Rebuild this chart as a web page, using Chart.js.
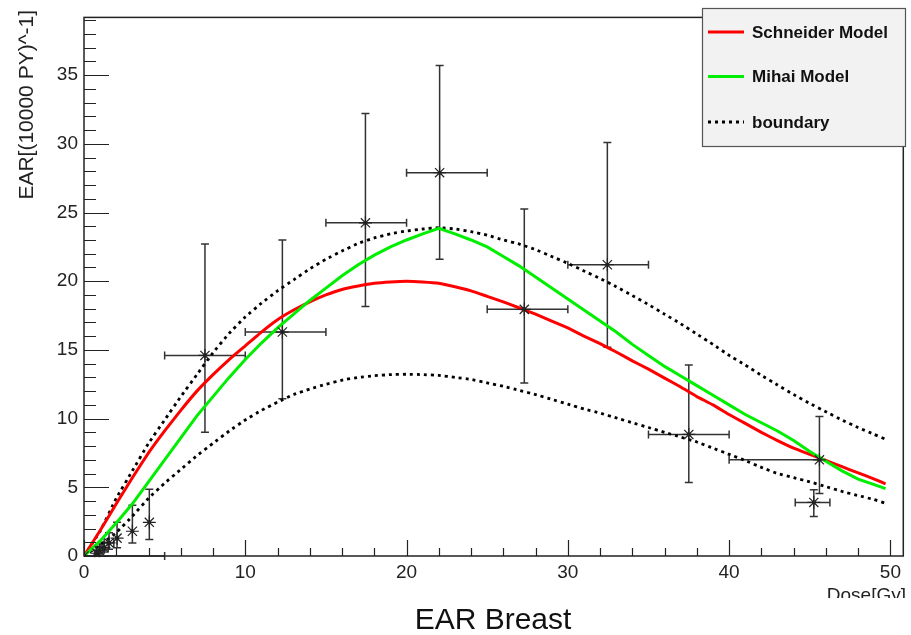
<!DOCTYPE html>
<html>
<head>
<meta charset="utf-8">
<title>EAR Breast</title>
<script src="https://cdn.jsdelivr.net/npm/chart.js@4/dist/chart.umd.min.js"></script>
<style>
  html, body { margin: 0; padding: 0; background: #ffffff; }
  #wrap { width: 911px; height: 635px; position: relative; }
</style>
</head>
<body>
<div id="wrap"><canvas id="ear"></canvas></div>
<script>
// Dose grid (Gy) on which the model curves are evaluated
const doseGrid = [0, 1, 2, 3, 4, 5, 6, 7, 8, 9, 10, 11, 12, 13, 14, 15, 16, 17, 18, 19,
  20, 21, 22, 23, 24, 25, 26, 27, 28, 29, 30, 31, 32, 33, 34, 35, 36, 37, 38, 39,
  40, 41, 42, 43, 44, 45, 46, 47, 48, 49, 49.7];

// Schneider model EAR
const schneiderEar = [0, 1.85, 3.8, 5.7, 7.5, 9.1, 10.6, 12.0, 13.2, 14.3, 15.3, 16.3, 17.2, 17.9, 18.5, 19.0,
  19.4, 19.65, 19.85, 19.95, 20.0, 19.95, 19.85, 19.6, 19.3, 18.9, 18.5, 18.05, 17.6, 17.1, 16.6, 16.0,
  15.45, 14.85, 14.2, 13.6, 12.95, 12.3, 11.6, 11.0, 10.3, 9.65, 9.0, 8.4, 7.85, 7.4, 6.95, 6.5, 6.05, 5.6, 5.25];

// Mihai model EAR
const mihaiEar = [0, 1.1, 2.4, 3.8, 5.4, 7.0, 8.6, 10.2, 11.6, 13.0, 14.3, 15.5, 16.6, 17.6, 18.6, 19.5,
  20.4, 21.2, 21.9, 22.5, 23.0, 23.45, 23.85, 23.45, 23.0, 22.5, 21.8, 21.1, 20.3, 19.5, 18.7, 17.9,
  17.1, 16.3, 15.4, 14.6, 13.8, 13.1, 12.4, 11.7, 11.0, 10.3, 9.7, 9.1, 8.4, 7.6, 6.9, 6.2, 5.6, 5.2, 4.9];

// Upper and lower boundary of the model band
const upperBoundary = [0, 1.8, 4.2, 6.2, 8.2, 9.9, 11.6, 13.2, 14.8, 16.2, 17.4, 18.4, 19.3, 20.1, 20.9, 21.6,
  22.2, 22.75, 23.15, 23.45, 23.65, 23.8, 23.9, 23.8, 23.6, 23.35, 23.0, 22.7, 22.3, 21.8, 21.3, 20.75,
  20.2, 19.6, 18.95, 18.3, 17.6, 16.9, 16.15, 15.4, 14.6, 13.9, 13.15, 12.45, 11.75, 11.1, 10.5, 9.9, 9.35, 8.85, 8.5];
const lowerBoundary = [0, 0.8, 1.7, 2.9, 4.2, 5.3, 6.3, 7.3, 8.2, 9.1, 9.9, 10.6, 11.2, 11.75, 12.15, 12.5,
  12.8, 13.0, 13.12, 13.2, 13.23, 13.2, 13.15, 13.0, 12.85, 12.6, 12.35, 12.05, 11.75, 11.4, 11.05, 10.7,
  10.4, 10.05, 9.7, 9.35, 9.0, 8.65, 8.3, 7.85, 7.4, 6.95, 6.45, 6.0, 5.7, 5.4, 5.05, 4.7, 4.4, 4.1, 3.83];

// Measured EAR per dose bin, with asymmetric dose and EAR ranges
const binDose = [0, 0.8, 0.95, 1.25, 1.55, 2.05, 3.0, 4.05, 7.5, 12.3, 17.45, 22.05, 27.3, 32.45, 37.5, 45.6, 45.25];
const binEar  = [0, 0.2, 0.4, 0.6, 0.95, 1.3, 1.8, 2.45, 14.6, 16.3, 24.25, 27.9, 17.95, 21.2, 8.85, 7.0, 3.9];
const doseLow  = [0, 0.65, 0.75, 1.0, 1.25, 2.05, 3.0, 4.05, 5, 10, 15, 20, 25, 30, 35, 40, 44.1];
const doseHigh = [5, 0.95, 1.15, 1.5, 1.85, 2.05, 3.0, 4.05, 10, 15, 20, 25, 30, 35, 40, 45.6, 46.25];
const earLow  = [0, 0.05, 0.15, 0.3, 0.5, 0.6, 0.95, 1.2, 9.0, 11.45, 18.15, 21.6, 12.6, 15.2, 5.35, 4.55, 2.87];
const earHigh = [0, 0.4, 0.7, 1.0, 1.7, 2.45, 3.7, 4.85, 22.7, 23.0, 32.2, 35.7, 25.25, 30.1, 13.9, 10.15, 4.83];

// Axis ticks
const xMajorTicks = [0, 10, 20, 30, 40, 50];
const yMajorTicks = [0, 5, 10, 15, 20, 25, 30, 35];

const FONT = "'Liberation Sans', Arial, Helvetica, sans-serif";

const toXY = (xs, ys) => xs.map((x, i) => ({ x: x, y: ys[i] }));

// Error bars, inward ticks, frame, legend and titles
const rootStyle = {
  id: 'rootStyle',
  beforeDatasetsDraw(chart) {
    const ctx = chart.ctx, xs = chart.scales.x, ys = chart.scales.y;
    const cap = 4;
    ctx.save();
    ctx.strokeStyle = '#333';
    ctx.lineWidth = 1.5;
    for (let i = 0; i < binDose.length; i++) {
      const px = xs.getPixelForValue(binDose[i]);
      const py = ys.getPixelForValue(binEar[i]);
      const xl = xs.getPixelForValue(doseLow[i]);
      const xh = xs.getPixelForValue(doseHigh[i]);
      const yl = ys.getPixelForValue(earLow[i]);
      const yh = ys.getPixelForValue(earHigh[i]);
      ctx.beginPath();
      if (xh - xl > 1) {
        ctx.moveTo(xl, py); ctx.lineTo(xh, py);
        if (px - xl > 1) { ctx.moveTo(xl, py - cap); ctx.lineTo(xl, py + cap); }
        if (xh - px > 1) { ctx.moveTo(xh, py - cap); ctx.lineTo(xh, py + cap); }
      }
      if (yl - yh > 1) {
        ctx.moveTo(px, yl); ctx.lineTo(px, yh);
        if (yl - py > 1) { ctx.moveTo(px - cap, yl); ctx.lineTo(px + cap, yl); }
        if (py - yh > 1) { ctx.moveTo(px - cap, yh); ctx.lineTo(px + cap, yh); }
      }
      ctx.stroke();
    }
    ctx.restore();
  },
  afterDraw(chart) {
    const ctx = chart.ctx, xs = chart.scales.x, ys = chart.scales.y;
    const a = chart.chartArea;
    ctx.save();
    // frame
    ctx.strokeStyle = '#222';
    ctx.lineWidth = 1.5;
    ctx.strokeRect(a.left, a.top, a.right - a.left, a.bottom - a.top);
    // x ticks (pointing into the plot)
    ctx.lineWidth = 1.2;
    ctx.beginPath();
    for (let v = 0; v <= xs.max; v += 2) {
      const px = Math.round(xs.getPixelForValue(v)) + 0.5;
      const len = (v % 10 === 0) ? 16 : 8;
      ctx.moveTo(px, a.bottom); ctx.lineTo(px, a.bottom - len);
    }
    // y ticks
    for (let v = 0; v <= ys.max; v += 1) {
      const py = Math.round(ys.getPixelForValue(v)) + 0.5;
      const len = (v % 5 === 0) ? 25 : 12;
      ctx.moveTo(a.left, py); ctx.lineTo(a.left + len, py);
    }
    ctx.stroke();

    // legend box
    const lx = 702, ly = 8, lw = 203, lh = 138;
    ctx.fillStyle = '#f2f2f2';
    ctx.fillRect(lx, ly, lw, lh);
    ctx.strokeStyle = '#555';
    ctx.lineWidth = 1.2;
    ctx.strokeRect(lx + 0.5, ly + 0.5, lw, lh);
    const rows = [32, 76.5, 122];
    const curveSets = [1, 2, 3];
    ctx.font = 'bold 17px ' + FONT;
    ctx.textBaseline = 'middle';
    ctx.textAlign = 'left';
    curveSets.forEach((di, k) => {
      const ds = chart.data.datasets[di];
      ctx.beginPath();
      ctx.strokeStyle = ds.borderColor;
      ctx.lineWidth = ds.borderWidth;
      ctx.setLineDash(ds.borderDash || []);
      ctx.moveTo(708, rows[k]); ctx.lineTo(744, rows[k]);
      ctx.stroke();
      ctx.setLineDash([]);
      ctx.fillStyle = '#111';
      ctx.fillText(ds.label, 752, rows[k] + 1);
    });

    // y-axis title
    ctx.fillStyle = '#222';
    ctx.font = '21px ' + FONT;
    ctx.save();
    ctx.translate(33, 10);
    ctx.rotate(-Math.PI / 2);
    ctx.textAlign = 'right';
    ctx.textBaseline = 'alphabetic';
    ctx.fillText('EAR[(10000 PY)^-1]', 0, 0);
    ctx.restore();

    // x-axis title (cut by the canvas pad edge)
    ctx.font = '19px ' + FONT;
    ctx.save();
    ctx.beginPath();
    ctx.rect(700, 570, 211, 28);
    ctx.clip();
    ctx.textAlign = 'right';
    ctx.textBaseline = 'alphabetic';
    ctx.fillText('Dose[Gy]', 906, 601);
    ctx.restore();

    // main title
    ctx.font = '30px ' + FONT;
    ctx.textAlign = 'center';
    ctx.textBaseline = 'alphabetic';
    ctx.fillStyle = '#111';
    ctx.fillText('EAR Breast', 493, 629);
    ctx.restore();
  }
};

const boundaryLine = (label, ys) => ({
  type: 'line', label: label, data: toXY(doseGrid, ys),
  borderColor: '#000', borderWidth: 2.8, borderDash: [3, 4],
  pointRadius: 0, tension: 0.1, fill: false, order: 3
});

new Chart(document.getElementById('ear'), {
  data: {
    datasets: [
      {
        type: 'scatter', label: 'data', data: toXY(binDose, binEar),
        pointStyle: 'star', pointRadius: 6.5, borderColor: '#222', borderWidth: 1.2,
        backgroundColor: '#222', order: 0
      },
      {
        type: 'line', label: 'Schneider Model', data: toXY(doseGrid, schneiderEar),
        borderColor: '#ff0000', borderWidth: 3, pointRadius: 0, tension: 0.1, fill: false, order: 2
      },
      {
        type: 'line', label: 'Mihai Model', data: toXY(doseGrid, mihaiEar),
        borderColor: '#00ee00', borderWidth: 3, pointRadius: 0, tension: 0, fill: false, order: 1
      },
      boundaryLine('boundary', upperBoundary),
      boundaryLine('boundary (lower)', lowerBoundary),
      {
        type: 'scatter', label: 'centre', data: toXY(binDose, binEar),
        pointStyle: 'circle', pointRadius: 2, borderWidth: 0,
        backgroundColor: '#111', order: 0
      }
    ]
  },
  options: {
    responsive: true,
    maintainAspectRatio: false,
    animation: false,
    devicePixelRatio: 1,
    layout: { padding: { top: 10, right: 5, left: 0, bottom: 0 } },
    plugins: { legend: { display: false }, tooltip: { enabled: false } },
    scales: {
      x: {
        type: 'linear', min: 0, max: 50.8,
        grid: { display: false, drawTicks: false },
        border: { display: false },
        afterFit: (s) => { s.height = 79; },
        afterBuildTicks: (s) => { s.ticks = xMajorTicks.map(v => ({ value: v })); },
        ticks: { padding: 5, color: '#222', font: { family: FONT, size: 19 }, maxRotation: 0 }
      },
      y: {
        type: 'linear', min: 0, max: 39.2,
        grid: { display: false, drawTicks: false },
        border: { display: false },
        afterFit: (s) => { s.width = 84; },
        afterBuildTicks: (s) => { s.ticks = yMajorTicks.map(v => ({ value: v })); },
        ticks: { padding: 6, color: '#222', font: { family: FONT, size: 19 } }
      }
    }
  },
  plugins: [rootStyle]
});
</script>
</body>
</html>
